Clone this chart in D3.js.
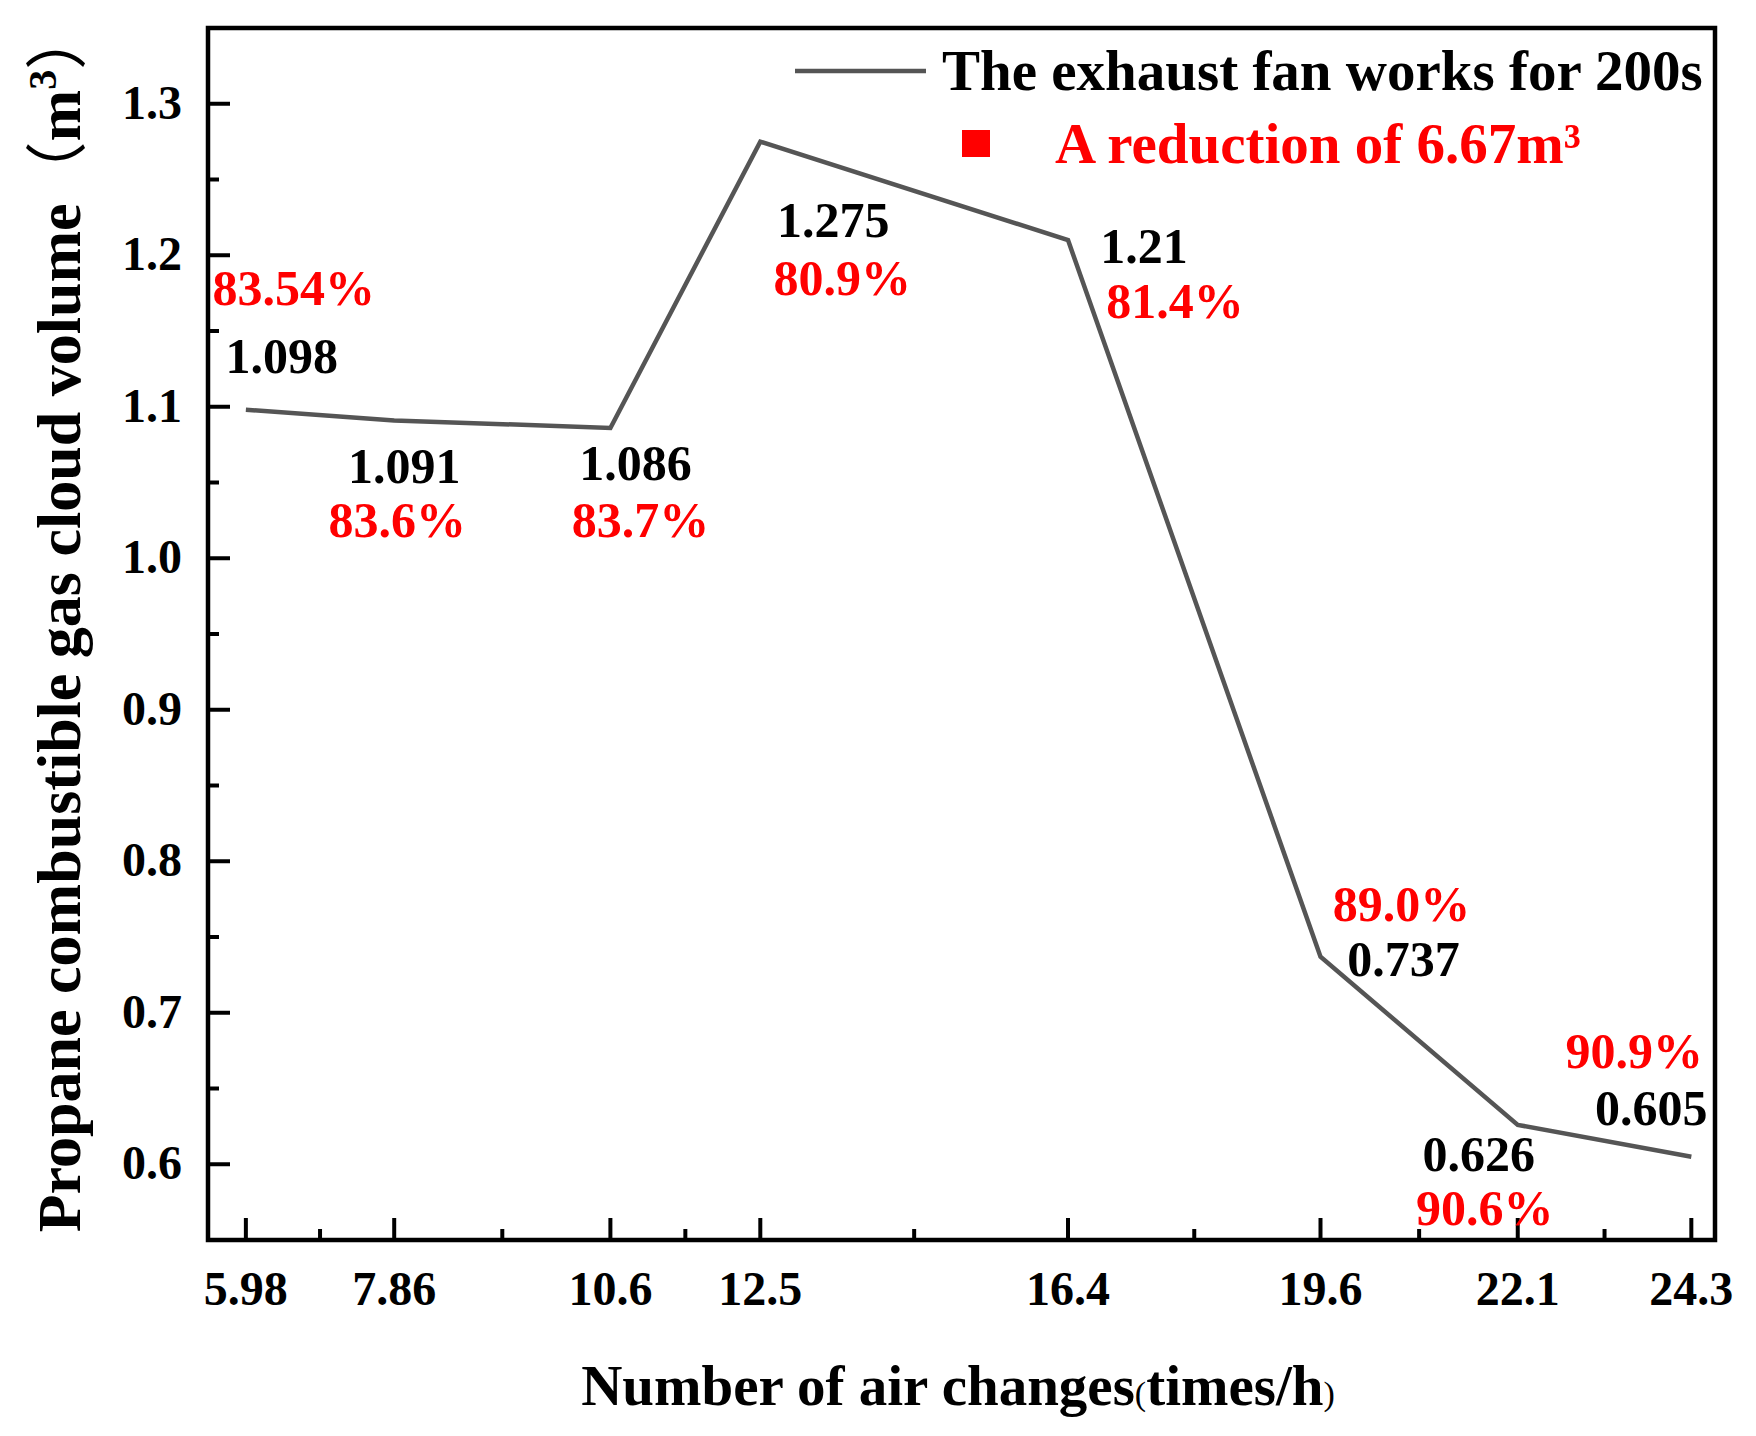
<!DOCTYPE html>
<html>
<head>
<meta charset="utf-8">
<script src="https://cdn.jsdelivr.net/npm/d3@7"></script>
<style>
  body { margin: 0; background: #fff; }
  text { font-family: "Liberation Serif", "Times New Roman", serif; font-weight: bold; }
</style>
</head>
<body>
<svg id="chart" width="1756" height="1436"></svg>
<script>
// data
const airChanges = [5.98, 7.86, 10.6, 12.5, 16.4, 19.6, 22.1, 24.3];
const gasVolume = [1.098, 1.091, 1.086, 1.275, 1.21, 0.737, 0.626, 0.605];
const reductionPct = ["83.54%", "83.6%", "83.7%", "80.9%", "81.4%", "89.0%", "90.6%", "90.9%"];
const yTickValues = [0.6, 0.7, 0.8, 0.9, 1.0, 1.1, 1.2, 1.3];
const yMinorValues = [0.65, 0.75, 0.85, 0.95, 1.05, 1.15, 1.25];

// label placement relative to each point (px): [dx, dy] for value and for percentage
const valueOffset = [[36, -37], [10, 63], [25, 52], [73, 95], [76, 23], [83, 19], [-39, 46], [-40, -32]];
const pctOffset = [[48, -105], [3, 117], [30, 109], [82, 153], [107, 78], [81, -36], [-33, 100], [-57, -89]];

const svg = d3.select("#chart");
svg.append("rect").attr("width", 1756).attr("height", 1436).attr("fill", "#fff");

const plot = { left: 208, right: 1715, top: 28, bottom: 1240 };

const x = d3.scaleLinear().domain([5.5, 24.6]).range([plot.left, plot.right]);
const y = d3.scaleLinear().domain([0.55, 1.35]).range([plot.bottom, plot.top]);

const points = airChanges.map((v, i) => ({ x: v, y: gasVolume[i], pct: reductionPct[i], i }));

// minor x ticks sit halfway between the labelled ones
const xMinorValues = d3.pairs(airChanges).map(([a, b]) => (a + b) / 2);

// y axis (ticks pointing inward)
const yAxis = svg.append("g").attr("transform", `translate(${plot.left},0)`);
yAxis.selectAll(".major").data(yTickValues).enter().append("line")
  .attr("x1", 0).attr("x2", 22)
  .attr("y1", d => y(d)).attr("y2", d => y(d))
  .attr("stroke", "#000").attr("stroke-width", 4);
yAxis.selectAll(".minor").data(yMinorValues).enter().append("line")
  .attr("x1", 0).attr("x2", 11)
  .attr("y1", d => y(d)).attr("y2", d => y(d))
  .attr("stroke", "#000").attr("stroke-width", 4);
yAxis.selectAll(".lbl").data(yTickValues).enter().append("text")
  .attr("x", -26).attr("y", d => y(d) + 15)
  .attr("text-anchor", "end").attr("font-size", 48)
  .text(d => d3.format(".1f")(d));

// x axis
const xAxis = svg.append("g").attr("transform", `translate(0,${plot.bottom})`);
xAxis.selectAll(".major").data(airChanges).enter().append("line")
  .attr("x1", d => x(d)).attr("x2", d => x(d))
  .attr("y1", 0).attr("y2", -22)
  .attr("stroke", "#000").attr("stroke-width", 4);
xAxis.selectAll(".minor").data(xMinorValues).enter().append("line")
  .attr("x1", d => x(d)).attr("x2", d => x(d))
  .attr("y1", 0).attr("y2", -11)
  .attr("stroke", "#000").attr("stroke-width", 4);
xAxis.selectAll(".lbl").data(airChanges).enter().append("text")
  .attr("x", d => x(d)).attr("y", 65)
  .attr("text-anchor", "middle").attr("font-size", 48)
  .text(d => d);

// frame
svg.append("rect")
  .attr("x", plot.left).attr("y", plot.top)
  .attr("width", plot.right - plot.left).attr("height", plot.bottom - plot.top)
  .attr("fill", "none").attr("stroke", "#000").attr("stroke-width", 4.5);

// line
const line = d3.line().x(d => x(d.x)).y(d => y(d.y));
svg.append("path")
  .datum(points)
  .attr("d", line)
  .attr("fill", "none")
  .attr("stroke", "#555")
  .attr("stroke-width", 4.5)
  .attr("stroke-linejoin", "miter");

// point labels
const labels = svg.append("g");
labels.selectAll(".val").data(points).enter().append("text")
  .attr("x", d => x(d.x) + valueOffset[d.i][0])
  .attr("y", d => y(d.y) + valueOffset[d.i][1])
  .attr("text-anchor", "middle").attr("font-size", 50)
  .attr("fill", "#000")
  .text(d => d.y);
labels.selectAll(".pct").data(points).enter().append("text")
  .attr("x", d => x(d.x) + pctOffset[d.i][0])
  .attr("y", d => y(d.y) + pctOffset[d.i][1])
  .attr("text-anchor", "middle").attr("font-size", 50)
  .attr("fill", "#ff0000")
  .text(d => d.pct);

// legend
const legend = svg.append("g");
legend.append("line")
  .attr("x1", 795).attr("x2", 926).attr("y1", 71).attr("y2", 71)
  .attr("stroke", "#555").attr("stroke-width", 4.5);
legend.append("text")
  .attr("x", 942).attr("y", 90).attr("font-size", 57)
  .text("The exhaust fan works for 200s");
legend.append("rect")
  .attr("x", 962).attr("y", 130).attr("width", 28).attr("height", 27)
  .attr("fill", "#ff0000");
legend.append("text")
  .attr("x", 1055).attr("y", 163).attr("font-size", 57)
  .attr("fill", "#ff0000")
  .text("A reduction of 6.67m³");

// axis titles
const xt = svg.append("text")
  .attr("x", 958).attr("y", 1405)
  .attr("text-anchor", "middle").attr("font-size", 57);
xt.append("tspan").text("Number of air changes");
xt.append("tspan").attr("font-size", 34).attr("font-weight", "normal").text("(");
xt.append("tspan").text("times/h");
xt.append("tspan").attr("font-size", 34).attr("font-weight", "normal").text(")");

const yt = svg.append("text")
  .attr("transform", "translate(80,620) rotate(-90)")
  .attr("text-anchor", "middle").attr("font-size", 62);
yt.append("tspan").text("Propane combustible gas cloud volume");
yt.append("tspan").attr("font-weight", "normal").attr("font-family", "Noto Sans CJK SC").text("（");
yt.append("tspan").text("m");
yt.append("tspan").attr("font-size", 40).attr("dy", -24).text("3");
yt.append("tspan").attr("dy", 24).attr("font-weight", "normal").attr("font-family", "Noto Sans CJK SC").text("）");
</script>
</body>
</html>
